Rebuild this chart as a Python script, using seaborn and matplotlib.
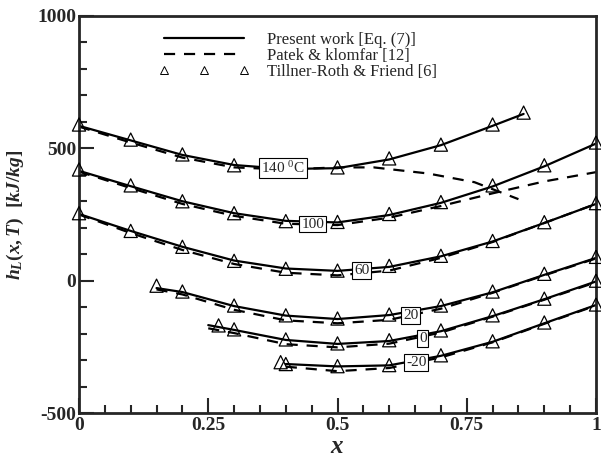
import matplotlib
matplotlib.use("Agg")
import matplotlib.pyplot as plt
from matplotlib.lines import Line2D
from matplotlib.ticker import MultipleLocator
import seaborn as sns
import pandas as pd

# ---- data ----
temps = ["140", "100", "60", "20", "0", "-20"]
label_text = {"140": "140 $^\\mathregular{0}$C", "100": "100", "60": "60",
              "20": "20", "0": "0", "-20": "-20"}

# present work (solid)
sol_x = {
    "140": [0, 0.1, 0.2, 0.3, 0.4, 0.5, 0.6, 0.7, 0.8, 0.86],
    "100": [0, 0.1, 0.2, 0.3, 0.4, 0.5, 0.6, 0.7, 0.8, 0.9, 1.0],
    "60":  [0, 0.1, 0.2, 0.3, 0.4, 0.5, 0.6, 0.7, 0.8, 0.9, 1.0],
    "20":  [0.15, 0.2, 0.3, 0.4, 0.5, 0.6, 0.7, 0.8, 0.9, 1.0],
    "0":   [0.25, 0.3, 0.4, 0.5, 0.6, 0.7, 0.8, 0.9, 1.0],
    "-20": [0.40, 0.5, 0.6, 0.7, 0.8, 0.9, 1.0],
}
sol_y = {
    "140": [585, 530, 475, 437, 422, 425, 458, 512, 585, 630],
    "100": [415, 357, 300, 255, 226, 220, 248, 294, 356, 432, 518],
    "60":  [252, 188, 128, 76, 46, 37, 52, 92, 148, 218, 290],
    "20":  [-28, -43, -96, -132, -145, -130, -96, -44, 22, 86],
    "0":   [-168, -186, -224, -239, -228, -191, -134, -70, -3],
    "-20": [-315, -324, -320, -284, -231, -161, -92],
}

# Patek & Klomfar (dashed)
pat_x = {
    "140": [0, 0.1, 0.2, 0.3, 0.4, 0.5, 0.57, 0.675, 0.765, 0.85],
    "100": [0, 0.1, 0.2, 0.3, 0.4, 0.5, 0.6, 0.7, 0.8, 0.9, 1.0],
    "60":  [0, 0.1, 0.2, 0.3, 0.4, 0.5, 0.6, 0.7, 0.8, 0.9, 1.0],
    "20":  [0.15, 0.2, 0.3, 0.4, 0.5, 0.6, 0.7, 0.8, 0.9, 1.0],
    "0":   [0.25, 0.3, 0.4, 0.5, 0.6, 0.7, 0.8, 0.9, 1.0],
    "-20": [0.40, 0.5, 0.6, 0.7, 0.8, 0.9, 1.0],
}
pat_y = {
    "140": [582, 522, 465, 428, 420, 428, 428, 405, 372, 308],
    "100": [412, 350, 290, 245, 215, 210, 238, 282, 330, 375, 410],
    "60":  [250, 180, 116, 63, 30, 20, 38, 86, 146, 218, 290],
    "20":  [-33, -52, -110, -150, -161, -148, -106, -46, 20, 84],
    "0":   [-180, -198, -240, -252, -238, -196, -136, -72, -6],
    "-20": [-325, -342, -330, -290, -233, -163, -94],
}

# Tillner-Roth & Friend (triangles)
tri_x = {
    "140": [0, 0.1, 0.2, 0.3, 0.5, 0.6, 0.7, 0.8, 0.86],
    "100": [0, 0.1, 0.2, 0.3, 0.4, 0.5, 0.6, 0.7, 0.8, 0.9, 1.0],
    "60":  [0, 0.1, 0.2, 0.3, 0.4, 0.5, 0.6, 0.7, 0.8, 0.9, 1.0],
    "20":  [0.15, 0.2, 0.3, 0.4, 0.5, 0.6, 0.7, 0.8, 0.9, 1.0],
    "0":   [0.27, 0.3, 0.4, 0.5, 0.6, 0.7, 0.8, 0.9, 1.0],
    "-20": [0.39, 0.4, 0.5, 0.6, 0.7, 0.8, 0.9, 1.0],
}
tri_y = {
    "140": [590, 533, 477, 436, 428, 462, 514, 590, 635],
    "100": [420, 360, 300, 255, 225, 222, 252, 297, 360, 436, 522],
    "60":  [255, 188, 128, 75, 45, 38, 56, 94, 150, 221, 293],
    "20":  [-19, -41, -94, -131, -143, -128, -94, -41, 26, 90],
    "0":   [-169, -184, -222, -237, -225, -188, -131, -68, 0],
    "-20": [-308, -315, -323, -319, -282, -229, -158, -90],
}

# label box positions
lab_x = {"140": 0.395, "100": 0.452, "60": 0.547, "20": 0.642, "0": 0.665, "-20": 0.652}
lab_y = {"140": 425, "100": 214, "60": 38, "20": -131, "0": -218, "-20": -308}

x_ticks = [0, 0.25, 0.5, 0.75, 1]
x_tick_labels = ["0", "0.25", "0.5", "0.75", "1"]
y_ticks = [-500, 0, 500, 1000]
y_tick_labels = ["-500", "0", "500", "1000"]

# ---- build tables ----
def table(xd, yd):
    rows = []
    for t in temps:
        for xv, yv in zip(xd[t], yd[t]):
            rows.append({"T": t, "x": xv, "h": yv})
    return pd.DataFrame(rows)

df_sol = table(sol_x, sol_y)
df_pat = table(pat_x, pat_y)
df_tri = table(tri_x, tri_y)

sns.set_style("ticks")
plt.rcParams["font.family"] = ["Liberation Serif", "DejaVu Serif"]
plt.rcParams["axes.unicode_minus"] = False
plt.rcParams["mathtext.fontset"] = "custom"
plt.rcParams["mathtext.it"] = "Liberation Serif:italic:bold"
plt.rcParams["mathtext.rm"] = "Liberation Serif:bold"
plt.rcParams["mathtext.bf"] = "Liberation Serif:bold"

fig = plt.figure(figsize=(6.01, 4.61), dpi=100)
ax = fig.add_axes([79 / 601, 1 - 413 / 461, 517 / 601, 397 / 461])

pal = {t: "black" for t in temps}
sns.lineplot(data=df_pat, x="x", y="h", hue="T", palette=pal, sort=False,
             estimator=None, legend=False, ax=ax, linewidth=1.6)
for ln in ax.lines:
    ln.set_linestyle((0, (5, 4)))
sns.lineplot(data=df_sol, x="x", y="h", hue="T", palette=pal, sort=False,
             estimator=None, legend=False, ax=ax, linewidth=1.6)
sns.scatterplot(data=df_tri, x="x", y="h", marker="^", s=90,
                facecolor="none", edgecolor="black", linewidth=0.9,
                legend=False, ax=ax, clip_on=False, zorder=4)

for t in temps:
    ax.text(lab_x[t], lab_y[t], label_text[t], fontsize=11, ha="center",
            va="center", zorder=6,
            bbox=dict(boxstyle="square,pad=0.12", fc="white", ec="black", lw=0.8))

ax.set_xlim(0, 1)
ax.set_ylim(-500, 1000)
ax.set_xticks(x_ticks)
ax.set_xticklabels(x_tick_labels)
ax.set_yticks(y_ticks)
ax.set_yticklabels(y_tick_labels)
ax.xaxis.set_minor_locator(MultipleLocator(0.05))
ax.yaxis.set_minor_locator(MultipleLocator(100))
ax.tick_params(which="both", direction="in", top=False, right=False, width=1.5)
ax.tick_params(which="major", length=11, labelsize=14, pad=2)
ax.tick_params(axis="x", which="major", pad=3)
ax.tick_params(which="minor", length=6)
for lab in ax.get_xticklabels() + ax.get_yticklabels():
    lab.set_fontweight("bold")
for sp in ax.spines.values():
    sp.set_linewidth(2)
    sp.set_visible(True)

ax.set_xlabel("$x$", fontsize=18, labelpad=1)
ax.set_ylabel("$h_{L}(x,T)\\ \\ [kJ/kg]$", fontsize=14, labelpad=8)

handles = [
    Line2D([], [], color="black", lw=1.6, label="Present work [Eq. (7)]"),
    Line2D([], [], color="black", lw=1.6, ls=(0, (5, 4)), label="Patek & klomfar [12]"),
    Line2D([], [], color="black", lw=0, marker="^", mfc="none", mec="black",
           markersize=6, mew=0.7, label="Tillner-Roth & Friend [6]"),
]
fig.legend(handles=handles, loc="upper left", bbox_to_anchor=(147 / 601, 1 - 20 / 461),
           frameon=False, fontsize=12, handlelength=5.4, handletextpad=1.1,
           labelspacing=0.0, numpoints=3, borderpad=0.2)

fig.savefig("out.png", dpi=100)
